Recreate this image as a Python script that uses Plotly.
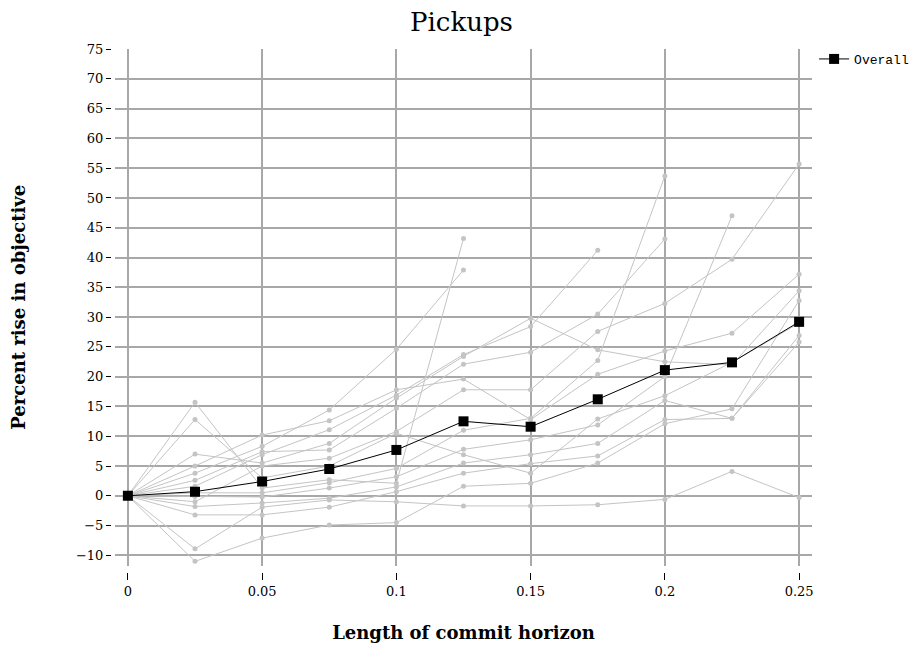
import plotly.graph_objects as go

x_vals = [0, 0.025, 0.05, 0.075, 0.1, 0.125, 0.15, 0.175, 0.2, 0.225, 0.25]

instance_a = [0, 15.7, 1.3, 2.7, 2.1, 43.2, None, None, None, None, None]
instance_b = [0, 3.8, 8.3, 14.4, 24.6, 37.9, None, None, None, None, None]
instance_c = [0, 1.6, 6.9, 11.1, 16.9, 23.7, 28.4, 41.2, None, None, None]
instance_d = [0, 0.5, 0.5, 2.2, 4.6, 11.0, 13.0, 22.7, 53.7, None, None]
instance_e = [0, 2.6, 7.4, 7.7, 14.7, 22.1, 24.1, 30.5, 43.1, None, None]
instance_f = [0, -0.1, -0.2, 1.3, 3.2, 7.8, 9.4, 11.9, 20.0, 47.0, None]
instance_g = [0, -1.0, 5.0, 6.3, 10.8, 17.8, 17.8, 27.6, 32.3, 39.7, 55.7]
instance_h = [0, 5.0, 10.2, 12.6, 17.8, 19.6, 12.8, 20.4, 24.3, 27.3, 37.2]
instance_i = [0, 7.0, 5.5, 8.8, 16.4, 23.4, 29.8, 24.5, 22.5, 22.0, 34.4]
instance_j = [0, -11.0, -7.1, -4.9, -4.5, 1.6, 2.1, 5.5, 12.1, 14.6, 32.8]
instance_k = [0, 12.8, 3.0, 5.0, 10.5, 6.9, 3.8, 12.9, 16.8, 22.4, 29.0]
instance_l = [0, -1.8, -1.2, -0.4, 1.5, 5.5, 6.9, 8.8, 16.0, 13.0, 26.9]
instance_m = [0, -3.2, -3.2, -1.9, 0.7, 3.8, 5.4, 6.7, 12.8, 13.0, 25.8]
instance_o = [0, -8.9, -1.9, -0.7, -1.0, -1.7, -1.7, -1.5, -0.6, 4.1, -0.3]

overall = [0, 0.7, 2.4, 4.5, 7.7, 12.5, 11.6, 16.2, 21.1, 22.4, 29.2]

x_ticks = [0, 0.05, 0.1, 0.15, 0.2, 0.25]
x_ticktext = ["0", "0.05", "0.1", "0.15", "0.2", "0.25"]
y_ticks = list(range(-10, 80, 5))

instances = [instance_a, instance_b, instance_c, instance_d, instance_e, instance_f,
             instance_g, instance_h, instance_i, instance_j, instance_k, instance_l,
             instance_m, instance_o]

fig = go.Figure()
for ys in instances:
    fig.add_trace(go.Scatter(
        x=x_vals, y=ys, mode="lines+markers",
        line=dict(color="#c4c4c4", width=1),
        marker=dict(color="#c4c4c4", size=5),
        showlegend=False, hoverinfo="skip", connectgaps=False))

fig.add_trace(go.Scatter(
    x=x_vals, y=overall, mode="lines+markers", name="Overall",
    line=dict(color="black", width=1),
    marker=dict(color="black", size=10, symbol="square")))

grid_color = "#a8a8a8"
serif = "DejaVu Serif"

fig.update_layout(
    width=918, height=646,
    paper_bgcolor="white", plot_bgcolor="white",
    margin=dict(l=103, r=114, t=41, b=82, autoexpand=False),
    title=dict(text="Pickups", x=0.5, xref="paper", y=0.978, yanchor="middle",
               font=dict(family=serif, size=26, color="black")),
    xaxis=dict(
        range=[-0.0048, 0.2548], domain=[0.0057, 1],
        anchor="free", position=0,
        tickvals=x_ticks, ticktext=x_ticktext,
        ticks="outside", ticklen=7, tickwidth=1, tickcolor="black",
        showgrid=True, gridcolor=grid_color, gridwidth=1.5,
        zeroline=False, showline=False, automargin=False,
        tickfont=dict(family=serif, size=13, color="black"),
        title=dict(text="Length of commit horizon", standoff=28,
                   font=dict(family=serif, size=18, color="black", weight="bold")),
    ),
    yaxis=dict(
        range=[-11.7, 75], domain=[0.0124, 1],
        anchor="free", position=0,
        tickvals=y_ticks,
        ticks="outside", ticklen=5, tickwidth=1, tickcolor="black",
        showgrid=True, gridcolor=grid_color, gridwidth=1.5,
        zeroline=False, showline=False, automargin=False,
        tickfont=dict(family=serif, size=13, color="black"),
        title=dict(text="Percent rise in objective", standoff=46,
                   font=dict(family=serif, size=18, color="black", weight="bold")),
    ),
    legend=dict(x=0.003, xref="paper", y=1.0096, xanchor="left", yanchor="top",
                bgcolor="rgba(0,0,0,0)", borderwidth=0,
                font=dict(family="Liberation Mono", size=13, color="black"),
                itemwidth=30, tracegroupgap=0),
)
fig.update_layout(legend=dict(x=1.003))

fig.write_html("out.html")
